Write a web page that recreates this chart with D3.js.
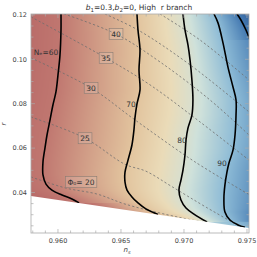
<!DOCTYPE html>
<html>
<head>
<meta charset="utf-8">
<script src="https://cdn.jsdelivr.net/npm/d3@7"></script>
<style>
body { margin: 0; background: #fff; }
svg { display: block; font-family: "DejaVu Sans", sans-serif; }
</style>
</head>
<body>
<script>
var width = 257, height = 257;
var margin = {left: 31, right: 8, top: 14, bottom: 24};

// axes
var nsDomain = [0.95786, 0.97516];
var rDomain = [0.02176, 0.1204];
var nsTicks = [0.960, 0.965, 0.970, 0.975];
var rTicks = [0.04, 0.06, 0.08, 0.10, 0.12];

// boundary of the allowed region (ns, r)
var region = [[0.95786, 0.1250], [0.97516, 0.1250], [0.97516, 0.0240], [0.95786, 0.0384]];

// N_e contours (solid)
var neLevels = [60, 70, 80, 90, 100];
var ne60 = [[0.96024,0.1204],[0.96024,0.1132],[0.96016,0.1019],[0.96000,0.0929],[0.95984,0.0853],[0.95960,0.0794],
  [0.95937,0.0727],[0.95913,0.0659],[0.95897,0.0601],[0.95881,0.0537],[0.95881,0.0479],[0.95905,0.0438],
  [0.95952,0.0411],[0.96032,0.0389],[0.96111,0.0371],[0.96167,0.0353]];
var ne70 = [[0.96627,0.1204],[0.96635,0.1132],[0.96651,0.1042],[0.96643,0.0952],[0.96651,0.0862],[0.96627,0.0799],
  [0.96611,0.0736],[0.96603,0.0682],[0.96587,0.0614],[0.96556,0.0546],[0.96532,0.0492],[0.96532,0.0447],
  [0.96548,0.0411],[0.96587,0.0380],[0.96635,0.0353],[0.96698,0.0326],[0.96794,0.0301]];
var ne80 = [[0.96992,0.1204],[0.97008,0.1132],[0.97032,0.1064],[0.97048,0.0997],[0.97063,0.0907],[0.97071,0.0817],
  [0.97063,0.0749],[0.97032,0.0691],[0.97016,0.0636],[0.97008,0.0569],[0.96992,0.0501],[0.96976,0.0456],
  [0.96960,0.0411],[0.96976,0.0366],[0.97016,0.0330],[0.97079,0.0303],[0.97183,0.0267]];
var ne90 = [[0.97238,0.1204],[0.97270,0.1164],[0.97310,0.1073],[0.97349,0.0965],[0.97389,0.0875],[0.97413,0.0817],
  [0.97413,0.0749],[0.97405,0.0659],[0.97389,0.0591],[0.97357,0.0533],[0.97341,0.0492],[0.97325,0.0434],
  [0.97317,0.0375],[0.97325,0.0312],[0.97365,0.0276],[0.97429,0.0254],[0.97484,0.0243]];
var ne100 = [[0.97421,0.1204],[0.97452,0.1177],[0.97492,0.1132],[0.97524,0.1087]];
var neLines = [ne60, ne70, ne80, ne90, ne100];

var neLabels = ["N\u2091=60", "70", "80", "90"];
var neLabelPos = [[0.95905,0.1033],[0.96579,0.0799],[0.96984,0.0636],[0.97302,0.0533]];

// Phi_0 contours (dashed)
var phi20 = [[0.95786,0.0470],[0.96063,0.0420],[0.96310,0.0393],[0.96532,0.0348],[0.96873,0.0299],[0.97143,0.0267],[0.97365,0.0240]];
var phi25 = [[0.95786,0.0740],[0.96214,0.0645],[0.96532,0.0527],[0.96698,0.0496],[0.96897,0.0429],[0.97175,0.0334],[0.97564,0.0208]];
var phi30 = [[0.95786,0.1006],[0.96262,0.0871],[0.96611,0.0727],[0.97087,0.0538],[0.97516,0.0391]];
var phi35 = [[0.95786,0.1191],[0.96381,0.1006],[0.96730,0.0885],[0.97127,0.0718],[0.97516,0.0546]];
var phi40 = [[0.96048,0.1204],[0.96460,0.1114],[0.96810,0.0988],[0.97206,0.0817],[0.97516,0.0659]];
var phi45 = [[0.96373,0.1204],[0.96635,0.1132],[0.97048,0.0975],[0.97516,0.0763]];
var phi50 = [[0.96810,0.1204],[0.97127,0.1087],[0.97516,0.0907]];
var phiLines = [phi20, phi25, phi30, phi35, phi40, phi45, phi50];

var phiLabels = ["\u03A6\u2080= 20", "25", "30", "35", "40"];
var phiLabelPos = [[0.96183,0.0447],[0.96214,0.0645],[0.96262,0.0871],[0.96381,0.1006],[0.96460,0.1114]];

// colour of the density, keyed on N_e
var colorN = [45, 60, 70, 76, 82, 90, 100, 110];
var colorHex = ["#a84f57", "#c07770", "#e2c49e", "#eadbb8", "#cfe1da", "#8dbbd6", "#4479b1", "#244d8e"];

var x = d3.scaleLinear().domain(nsDomain).range([margin.left, width - margin.right]);
var y = d3.scaleLinear().domain(rDomain).range([height - margin.bottom, margin.top]);
var color = d3.scaleLinear().domain(colorN).range(colorHex).clamp(true);

var svg = d3.select('body').append('svg')
    .attr('width', width)
    .attr('height', height);

var defs = svg.append('defs');
defs.append('clipPath').attr('id', 'plotclip')
    .append('rect')
        .attr('x', margin.left).attr('y', margin.top)
        .attr('width', width - margin.left - margin.right)
        .attr('height', height - margin.top - margin.bottom);
defs.append('clipPath').attr('id', 'regionclip')
    .append('path')
        .attr('d', d3.line().x(function (d) { return x(d[0]); }).y(function (d) { return y(d[1]); })(region) + 'Z');

// x position of a contour at given pixel row
function contourX(line, py) {
    for (var i = 0; i < line.length - 1; i++) {
        var y0 = y(line[i][1]), y1 = y(line[i + 1][1]);
        if ((py >= y0 && py <= y1) || (py >= y1 && py <= y0)) {
            var t = y1 === y0 ? 0 : (py - y0) / (y1 - y0);
            return x(line[i][0]) + t * (x(line[i + 1][0]) - x(line[i][0]));
        }
    }
    return null;
}

// density raster
var x0 = margin.left, w = width - margin.left - margin.right;
var y0 = margin.top, h = height - margin.top - margin.bottom;
var canvas = d3.create('canvas').attr('width', w).attr('height', h).node();
var ctx = canvas.getContext('2d');
var img = ctx.createImageData(w, h);
for (var j = 0; j < h; j++) {
    var py = y0 + j + 0.5;
    var pts = [];
    neLines.forEach(function (line, k) {
        var cx = contourX(line, py);
        if (cx !== null) pts.push([cx, neLevels[k]]);
    });
    pts.sort(function (a, b) { return a[0] - b[0]; });
    for (var i = 0; i < w; i++) {
        var px = x0 + i + 0.5, n;
        if (pts.length === 0) n = 90;
        else if (pts.length === 1) n = pts[0][1] + (px - pts[0][0]) / 5.5;
        else if (px <= pts[0][0]) n = pts[0][1] + (px - pts[0][0]) * (pts[1][1] - pts[0][1]) / (pts[1][0] - pts[0][0]);
        else if (px >= pts[pts.length - 1][0]) {
            var a = pts[pts.length - 2], b = pts[pts.length - 1];
            n = b[1] + (px - b[0]) * (b[1] - a[1]) / (b[0] - a[0]);
        } else {
            for (var k = 0; k < pts.length - 1; k++) {
                if (px >= pts[k][0] && px <= pts[k + 1][0]) {
                    n = pts[k][1] + (px - pts[k][0]) * (pts[k + 1][1] - pts[k][1]) / (pts[k + 1][0] - pts[k][0]);
                    break;
                }
            }
        }
        var c = d3.rgb(color(n));
        var o = (j * w + i) * 4;
        img.data[o] = c.r; img.data[o + 1] = c.g; img.data[o + 2] = c.b; img.data[o + 3] = 255;
    }
}
ctx.putImageData(img, 0, 0);

var plot = svg.append('g').attr('clip-path', 'url(#plotclip)');
plot.append('g').attr('clip-path', 'url(#regionclip)')
    .append('image')
        .attr('x', x0).attr('y', y0).attr('width', w).attr('height', h)
        .attr('href', canvas.toDataURL());

var line = d3.line().curve(d3.curveCatmullRom)
    .x(function (d) { return x(d[0]); })
    .y(function (d) { return y(d[1]); });

var inner = plot.append('g').attr('clip-path', 'url(#regionclip)');

inner.selectAll('path.phi')
    .data(phiLines)
    .enter().append('path')
        .attr('class', 'phi')
        .attr('d', line)
        .attr('fill', 'none')
        .attr('stroke', '#6f6f6f')
        .attr('stroke-width', 0.8)
        .attr('stroke-dasharray', '2.2,2.2');

inner.selectAll('path.ne')
    .data(neLines)
    .enter().append('path')
        .attr('class', 'ne')
        .attr('d', line)
        .attr('fill', 'none')
        .attr('stroke', '#000')
        .attr('stroke-width', 1.6);

// phi labels in boxes
var pl = plot.selectAll('g.phil')
    .data(phiLabels)
    .enter().append('g')
        .attr('class', 'phil')
        .attr('transform', function (d, i) { return 'translate(' + x(phiLabelPos[i][0]) + ',' + y(phiLabelPos[i][1]) + ')'; });
pl.append('text')
    .attr('text-anchor', 'middle')
    .attr('dy', '0.35em')
    .attr('font-size', 7.5)
    .attr('fill', '#333')
    .text(function (d) { return d; });
pl.each(function () {
    var g = d3.select(this);
    var bb = g.select('text').node().getBBox();
    g.insert('rect', 'text')
        .attr('x', bb.x - 2).attr('y', bb.y - 1)
        .attr('width', bb.width + 4).attr('height', bb.height + 2)
        .attr('fill', 'rgba(255,255,255,0.12)')
        .attr('stroke', '#8a7d74')
        .attr('stroke-width', 0.6);
});

plot.selectAll('text.nel')
    .data(neLabels)
    .enter().append('text')
        .attr('class', 'nel')
        .attr('x', function (d, i) { return x(neLabelPos[i][0]); })
        .attr('y', function (d, i) { return y(neLabelPos[i][1]); })
        .attr('text-anchor', 'middle')
        .attr('dy', '0.35em')
        .attr('font-size', 7.5)
        .attr('fill', '#333')
        .text(function (d) { return d; });

// frame and ticks
var frameColor = '#aaaaaa';
svg.append('rect')
    .attr('x', margin.left).attr('y', margin.top)
    .attr('width', w).attr('height', h)
    .attr('fill', 'none')
    .attr('stroke', frameColor)
    .attr('stroke-width', 0.8);

var nsMinor = d3.range(0.958, 0.9755, 0.001);
var rMinor = d3.range(0.025, 0.1205, 0.005);
var ticks = svg.append('g').attr('stroke', frameColor).attr('stroke-width', 0.7);
nsMinor.forEach(function (v) {
    var major = nsTicks.some(function (t) { return Math.abs(t - v) < 1e-6; });
    var len = major ? 4 : 2.5;
    if (x(v) < margin.left || x(v) > width - margin.right) return;
    ticks.append('line').attr('x1', x(v)).attr('x2', x(v)).attr('y1', y0 + h).attr('y2', y0 + h - len);
    ticks.append('line').attr('x1', x(v)).attr('x2', x(v)).attr('y1', y0).attr('y2', y0 + len);
});
rMinor.forEach(function (v) {
    var major = rTicks.some(function (t) { return Math.abs(t - v) < 1e-6; });
    var len = major ? 4 : 2.5;
    if (y(v) < margin.top || y(v) > y0 + h) return;
    ticks.append('line').attr('y1', y(v)).attr('y2', y(v)).attr('x1', x0).attr('x2', x0 + len);
    ticks.append('line').attr('y1', y(v)).attr('y2', y(v)).attr('x1', x0 + w).attr('x2', x0 + w - len);
});

svg.selectAll('text.xt')
    .data(nsTicks)
    .enter().append('text')
        .attr('class', 'xt')
        .attr('x', function (d) { return x(d); })
        .attr('y', y0 + h + 10)
        .attr('text-anchor', 'middle')
        .attr('font-size', 6.5)
        .attr('fill', '#444')
        .text(function (d) { return d3.format('.3f')(d); });

svg.selectAll('text.yt')
    .data(rTicks)
    .enter().append('text')
        .attr('class', 'yt')
        .attr('x', x0 - 4)
        .attr('y', function (d) { return y(d); })
        .attr('dy', '0.35em')
        .attr('text-anchor', 'end')
        .attr('font-size', 6.5)
        .attr('fill', '#444')
        .text(function (d) { return d3.format('.2f')(d); });

// axis titles
var xt = svg.append('text')
    .attr('x', 127).attr('y', 252)
    .attr('text-anchor', 'middle')
    .attr('font-size', 7)
    .attr('font-style', 'italic')
    .attr('fill', '#444');
xt.append('tspan').text('n');
xt.append('tspan').attr('font-size', 5).attr('dy', 1.5).text('s');

svg.append('text')
    .attr('transform', 'translate(6,124) rotate(-90)')
    .attr('text-anchor', 'middle')
    .attr('font-size', 7)
    .attr('font-style', 'italic')
    .attr('fill', '#444')
    .text('r');

var title = svg.append('text')
    .attr('x', 139).attr('y', 10)
    .attr('text-anchor', 'middle')
    .attr('font-size', 7.5)
    .attr('fill', '#333');
title.append('tspan').attr('font-style', 'italic').text('b');
title.append('tspan').attr('font-size', 5.5).attr('dy', 1.5).text('1');
title.append('tspan').attr('dy', -1.5).text('=0.3,');
title.append('tspan').attr('font-style', 'italic').text('b');
title.append('tspan').attr('font-size', 5.5).attr('dy', 1.5).text('2');
title.append('tspan').attr('dy', -1.5).text('=0, High\u00a0\u00a0r branch');
</script>
</body>
</html>
